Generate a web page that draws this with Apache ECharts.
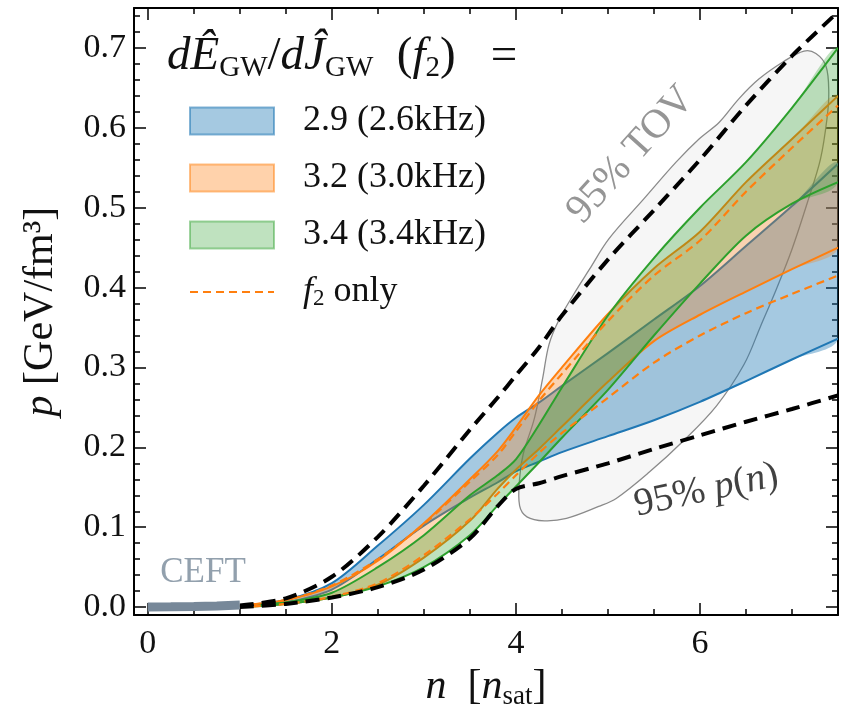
<!DOCTYPE html>
<html>
<head>
<meta charset="utf-8">
<script src="https://cdn.jsdelivr.net/npm/echarts@6/dist/echarts.min.js"></script>
<style>
  html, body { margin: 0; padding: 0; background: #fff; }
  #chart { width: 846px; height: 715px; }
</style>
</head>
<body>
<div id="chart"></div>
<script>
// density grid shared by all curves [n_sat]
const nGrid = [1.0, 1.5, 2.0, 2.5, 3.0, 3.5, 3.8, 4.0, 4.25, 4.5, 5.0, 5.5, 6.0, 6.5, 7.0, 7.5];

// 95% p(n) envelope (black dashed)
const pnUpper = [0.002, 0.011, 0.038, 0.088, 0.152, 0.222, 0.262, 0.29, 0.325, 0.365, 0.435, 0.497, 0.56, 0.628, 0.69, 0.745];
const pnLower = [0.0, 0.004, 0.012, 0.025, 0.047, 0.086, 0.126, 0.148, 0.155, 0.164, 0.18, 0.198, 0.215, 0.232, 0.248, 0.265];

// dE/dJ = 2.9 (2.6kHz)
const blueUpper = [0.002, 0.009, 0.03, 0.077, 0.128, 0.186, 0.218, 0.237, 0.256, 0.277, 0.318, 0.36, 0.402, 0.452, 0.502, 0.555];
const blueLower = [0.0, 0.006, 0.022, 0.06, 0.102, 0.137, 0.156, 0.17, 0.182, 0.194, 0.214, 0.234, 0.257, 0.283, 0.31, 0.336];

// dE/dJ = 3.2 (3.0kHz)
const orangeUpper = [0.002, 0.009, 0.026, 0.058, 0.105, 0.16, 0.195, 0.225, 0.265, 0.3, 0.367, 0.424, 0.47, 0.532, 0.586, 0.64];
const orangeLower = [0.0, 0.004, 0.012, 0.028, 0.062, 0.108, 0.148, 0.172, 0.198, 0.226, 0.282, 0.333, 0.366, 0.395, 0.423, 0.45];

// dE/dJ = 3.4 (3.4kHz)
const greenUpper = [0.001, 0.006, 0.018, 0.05, 0.09, 0.14, 0.165, 0.185, 0.228, 0.275, 0.365, 0.437, 0.5, 0.557, 0.625, 0.70];
const greenLower = [0.0, 0.004, 0.012, 0.026, 0.05, 0.09, 0.127, 0.151, 0.181, 0.212, 0.272, 0.34, 0.405, 0.465, 0.505, 0.532];

// f2 only (orange dashed)
const f2Upper = [0.002, 0.009, 0.027, 0.06, 0.104, 0.157, 0.19, 0.22, 0.258, 0.292, 0.358, 0.415, 0.459, 0.52, 0.575, 0.628];
const f2Lower = [0.0, 0.004, 0.013, 0.03, 0.065, 0.11, 0.142, 0.165, 0.193, 0.218, 0.262, 0.306, 0.34, 0.368, 0.392, 0.415];

// CEFT segment
const ceftN = [0.0, 0.25, 0.5, 0.75, 1.0];
const ceftP = [0.0, 0.0003, 0.0008, 0.0015, 0.0025];

// 95% TOV contour (closed loop)
const tovN = [4.04, 4.12, 4.31, 4.55, 4.9, 5.09, 5.45, 5.81, 6.18, 6.48, 6.66, 6.83, 7.0, 7.18, 7.31, 7.38, 7.4, 7.37, 7.26, 7.13, 6.91, 6.64, 6.42, 6.21, 5.99, 5.74, 5.39, 5.01, 4.8, 4.63, 4.47, 4.36, 4.29, 4.2, 4.08, 4.04];
const tovP = [0.127, 0.113, 0.108, 0.111, 0.126, 0.136, 0.169, 0.207, 0.252, 0.304, 0.352, 0.398, 0.448, 0.511, 0.561, 0.611, 0.644, 0.677, 0.693, 0.696, 0.683, 0.661, 0.636, 0.607, 0.586, 0.557, 0.511, 0.461, 0.423, 0.392, 0.36, 0.329, 0.286, 0.236, 0.192, 0.161];

// ticks
const xMajor = [0, 2, 4, 6];
const xMinor = [0.5, 1, 1.5, 2.5, 3, 3.5, 4.5, 5, 5.5, 6.5, 7];
const yMajor = [0, 0.1, 0.2, 0.3, 0.4, 0.5, 0.6, 0.7];
const yMinor = [0.02, 0.04, 0.06, 0.08, 0.12, 0.14, 0.16, 0.18, 0.22, 0.24, 0.26, 0.28, 0.32, 0.34, 0.36, 0.38,
  0.42, 0.44, 0.46, 0.48, 0.52, 0.54, 0.56, 0.58, 0.62, 0.64, 0.66, 0.68, 0.72, 0.74];

const legendNames = ['2.9 (2.6kHz)', '3.2 (3.0kHz)', '3.4 (3.4kHz)', 'f2 only'];

const FONT = 'Liberation Serif';
const X_MIN = -0.15, X_MAX = 7.5, Y_MIN = -0.01, Y_MAX = 0.75;

const zip = (xs, ys) => xs.map((x, i) => [x, ys[i]]);

function bandSeries(name, upper, lower, color, fill) {
  return {
    name: name,
    type: 'custom',
    coordinateSystem: 'cartesian2d',
    clip: true,
    z: 3,
    itemStyle: { color: fill, borderColor: color, borderWidth: 2 },
    data: [[4, 0.3]],
    renderItem: (params, api) => {
      const up = nGrid.map((n, i) => api.coord([n, upper[i]]));
      const lo = nGrid.map((n, i) => api.coord([n, lower[i]]));
      return {
        type: 'group',
        children: [
          { type: 'polygon', shape: { points: up.concat(lo.slice().reverse()), smooth: 0.3 }, style: { fill: fill } },
          { type: 'polyline', shape: { points: up, smooth: 0.3 }, style: { stroke: color, lineWidth: 2, fill: null } },
          { type: 'polyline', shape: { points: lo, smooth: 0.3 }, style: { stroke: color, lineWidth: 2, fill: null } }
        ]
      };
    }
  };
}

function tickAxis(dim, position, values, len, opts) {
  const ax = {
    type: 'value',
    position: position,
    min: dim === 'x' ? X_MIN : Y_MIN,
    max: dim === 'x' ? X_MAX : Y_MAX,
    splitLine: { show: false },
    axisLine: { show: !!opts.line, onZero: false, lineStyle: { color: '#000', width: 2 } },
    axisTick: { show: true, inside: true, length: len, customValues: values, lineStyle: { color: '#000', width: 1.5 } },
    axisLabel: { show: false }
  };
  return Object.assign(ax, opts.extra || {});
}

function annotation(pos, text, rotate, color, size) {
  return {
    type: 'scatter',
    symbolSize: 1,
    itemStyle: { color: 'rgba(0,0,0,0)' },
    silent: true,
    z: 10,
    data: [pos],
    label: {
      show: true, position: 'inside', formatter: text, rotate: rotate,
      color: color, fontFamily: FONT, fontSize: size,
      rich: { i: { fontStyle: 'italic', fontFamily: FONT, fontSize: size, color: color } }
    }
  };
}

const chart = echarts.init(document.getElementById('chart'));

const titleRich = {
  i: { fontFamily: FONT, fontStyle: 'italic', fontWeight: 'normal', fontSize: 47, lineHeight: 52, color: '#111' },
  n: { fontFamily: FONT, fontWeight: 'normal', fontSize: 47, lineHeight: 52, color: '#111' },
  s: { fontFamily: FONT, fontWeight: 'normal', fontSize: 29, lineHeight: 29, verticalAlign: 'bottom', color: '#111' }
};

const option = {
  animation: false,
  backgroundColor: '#fff',
  grid: { left: 134, right: 8, top: 8, bottom: 98 },
  title: {
    left: 162,
    top: 26,
    text: '{i|dÊ}{s|GW}{n|/}{i|dĴ}{s|GW}{n|  (}{i|f}{s|2}{n|)   =}',
    textStyle: { fontWeight: 'normal', rich: titleRich }
  },
  legend: {
    orient: 'vertical',
    left: 184,
    top: 98,
    itemWidth: 84,
    itemHeight: 27,
    itemGap: 21,
    data: [
      { name: legendNames[0], icon: 'rect', itemStyle: { color: 'rgba(31,119,180,0.4)', borderColor: 'rgba(31,119,180,0.55)', borderWidth: 2 } },
      { name: legendNames[1], icon: 'rect', itemStyle: { color: 'rgba(255,127,14,0.35)', borderColor: 'rgba(255,127,14,0.5)', borderWidth: 2 } },
      { name: legendNames[2], icon: 'rect', itemStyle: { color: 'rgba(44,160,44,0.3)', borderColor: 'rgba(44,160,44,0.45)', borderWidth: 2 } },
      { name: legendNames[3], itemStyle: { color: 'rgba(0,0,0,0)', borderWidth: 0 } }
    ],
    formatter: name => name === 'f2 only' ? '{i|f}{s|2}{n| only}' : name,
    textStyle: {
      fontFamily: FONT, fontSize: 36, color: '#111', padding: [0, 0, 0, 24],
      rich: {
        i: { fontFamily: FONT, fontStyle: 'italic', fontSize: 36, lineHeight: 36, color: '#111' },
        n: { fontFamily: FONT, fontSize: 36, lineHeight: 36, color: '#111' },
        s: { fontFamily: FONT, fontSize: 23, lineHeight: 23, verticalAlign: 'bottom', color: '#111' }
      }
    }
  },
  xAxis: [
    tickAxis('x', 'bottom', xMajor, 12, {
      line: true,
      extra: {
        name: '{i|n}{n|  [}{i|n}{s|sat}{n|]}',
        nameLocation: 'middle',
        nameGap: 48,
        nameTextStyle: {
          rich: {
            i: { fontFamily: FONT, fontStyle: 'italic', fontSize: 42, lineHeight: 46, color: '#111' },
            n: { fontFamily: FONT, fontSize: 42, lineHeight: 46, color: '#111' },
            s: { fontFamily: FONT, fontSize: 27, lineHeight: 27, verticalAlign: 'bottom', color: '#111' }
          }
        },
        axisLabel: { show: true, customValues: xMajor, margin: 12, fontFamily: FONT, fontSize: 34, color: '#111' }
      }
    }),
    tickAxis('x', 'bottom', xMinor, 6, {}),
    tickAxis('x', 'top', xMajor, 12, { line: true }),
    tickAxis('x', 'top', xMinor, 6, {})
  ],
  yAxis: [
    tickAxis('y', 'left', yMajor, 12, {
      line: true,
      extra: {
        name: '{i|p}{n| [GeV/fm³]}',
        nameLocation: 'middle',
        nameGap: 72,
        nameRotate: 90,
        nameTextStyle: {
          rich: {
            i: { fontFamily: FONT, fontStyle: 'italic', fontSize: 42, color: '#111' },
            n: { fontFamily: FONT, fontSize: 42, color: '#111' }
          }
        },
        axisLabel: {
          show: true, customValues: yMajor, margin: 8, fontFamily: FONT, fontSize: 34, color: '#111',
          formatter: v => v.toFixed(1)
        }
      }
    }),
    tickAxis('y', 'left', yMinor, 6, {}),
    tickAxis('y', 'right', yMajor, 12, { line: true }),
    tickAxis('y', 'right', yMinor, 6, {})
  ],
  series: [
    {
      name: 'tov',
      type: 'custom',
      coordinateSystem: 'cartesian2d',
      clip: true,
      z: 1,
      silent: true,
      data: [[5, 0.4]],
      renderItem: (params, api) => ({
        type: 'polygon',
        shape: { points: tovN.map((n, i) => api.coord([n, tovP[i]])), smooth: 0.35 },
        style: { fill: 'rgba(225,225,225,0.3)', stroke: '#8a8a8a', lineWidth: 1.3 }
      })
    },
    bandSeries(legendNames[0], blueUpper, blueLower, '#1f77b4', 'rgba(31,119,180,0.4)'),
    bandSeries(legendNames[1], orangeUpper, orangeLower, '#ff7f0e', 'rgba(255,127,14,0.3)'),
    bandSeries(legendNames[2], greenUpper, greenLower, '#2ca02c', 'rgba(44,160,44,0.3)'),
    {
      name: legendNames[3],
      type: 'line',
      smooth: 0.3,
      symbol: 'none',
      z: 5,
      lineStyle: { color: '#ff7f0e', width: 2.2, type: [8, 5] },
      itemStyle: { color: '#ff7f0e' },
      data: zip(nGrid, f2Upper)
    },
    {
      name: 'f2 low',
      type: 'line',
      smooth: 0.3,
      symbol: 'none',
      z: 5,
      lineStyle: { color: '#ff7f0e', width: 2.2, type: [8, 5] },
      data: zip(nGrid, f2Lower)
    },
    {
      name: 'pn up',
      type: 'line',
      smooth: 0.3,
      symbol: 'none',
      z: 6,
      lineStyle: { color: '#000', width: 4, type: [14, 8] },
      data: zip(nGrid, pnUpper)
    },
    {
      name: 'pn low',
      type: 'line',
      smooth: 0.3,
      symbol: 'none',
      z: 6,
      lineStyle: { color: '#000', width: 4, type: [14, 8] },
      data: zip(nGrid, pnLower)
    },
    {
      name: 'ceft',
      type: 'line',
      symbol: 'none',
      z: 7,
      lineStyle: { color: '#778899', width: 9, cap: 'butt' },
      data: zip(ceftN, ceftP)
    },
    annotation([0.6, 0.043], 'CEFT', 0, '#778899', 35),
    annotation([5.25, 0.566], '95% TOV', 48, '#7a7a7a', 41),
    annotation([6.07, 0.146], '95% {i|p}({i|n})', 12, '#111', 39)
  ]
};

chart.setOption(option);
</script>
</body>
</html>
